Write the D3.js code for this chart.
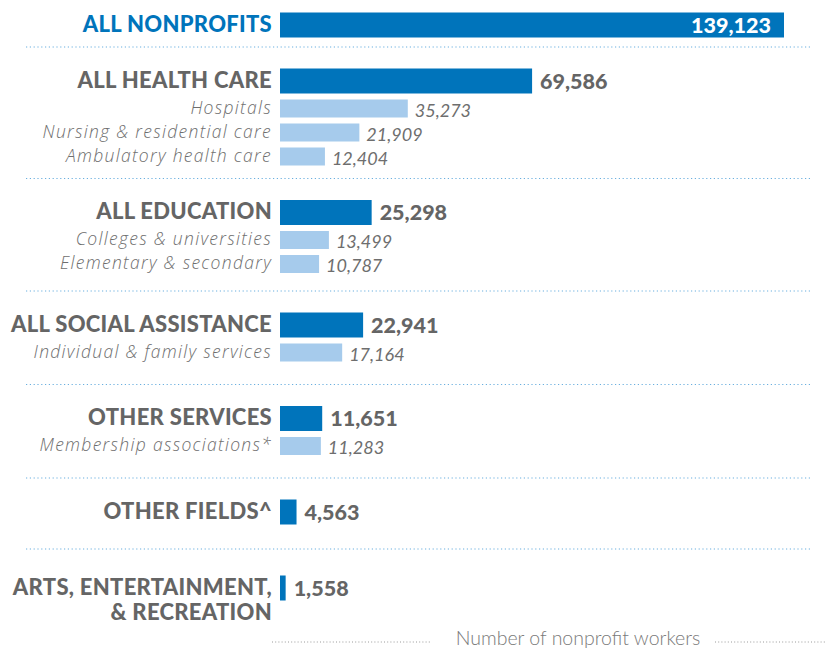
<!DOCTYPE html>
<html>
<head>
<meta charset="utf-8">
<script src="https://cdn.jsdelivr.net/npm/d3@7"></script>
<style>
  html, body { margin: 0; padding: 0; background: #fff; }
  svg { display: block; }
</style>
</head>
<body>
<svg id="chart" width="833" height="650"></svg>
<script>
// ---- data ----
const groups = ["ALL NONPROFITS", "ALL HEALTH CARE", "ALL EDUCATION", "ALL SOCIAL ASSISTANCE",
                "OTHER SERVICES", "OTHER FIELDS^", "ARTS, ENTERTAINMENT, & RECREATION"];
const groupValues = [139123, 69586, 25298, 22941, 11651, 4563, 1558];
const subCategories = [
  [],
  ["Hospitals", "Nursing & residential care", "Ambulatory health care"],
  ["Colleges & universities", "Elementary & secondary"],
  ["Individual & family services"],
  ["Membership associations*"],
  [],
  []
];
const subValues = [
  [],
  [35273, 21909, 12404],
  [13499, 10787],
  [17164],
  [11283],
  [],
  []
];
const axisTitle = "Number of nonprofit workers";

// ---- style / layout ----
const W = 833, H = 650;
const darkBlue = "#0074bb", lightBlue = "#a6cbec", gray = "#656565", subGray = "#6e6e6e", sepColor = "#6aafdf";
const font = "Lato, 'Open Sans', sans-serif";
const subFont = "'Open Sans', Lato, sans-serif";
const labelRight = 272;
const mainBarH = 25, subBarH = 18;
const firstCenter = 25, firstToSep = 22;
const sepToMain = 34, mainToSub = 27.5, subStep = 24, lineH = 25;

const x = d3.scaleLinear().domain([0, d3.max(groupValues)]).range([280, 784]);
const y = d3.scaleLinear().domain([0, H]).range([0, H]);
const fmt = d3.format(",");

// build rows
const rows = [], seps = [];
let cursor = firstCenter;
groups.forEach((g, i) => {
  const lines = g.includes(", &") ? g.replace(", &", ",\n&").split("\n") : [g];
  if (i > 0) cursor = seps[seps.length - 1] + sepToMain + (lines.length - 1) * lineH * 0.2;
  rows.push({ type: "main", idx: i, label: lines, value: groupValues[i], yc: cursor });
  subCategories[i].forEach((s, j) => {
    cursor = (j === 0) ? cursor + mainToSub : cursor + subStep;
    rows.push({ type: "sub", idx: i, label: [s], value: subValues[i][j], yc: cursor });
  });
  if (i < groups.length - 1) {
    const gap = i === 0 ? firstToSep : 37 - 5 * subCategories[i].length;
    seps.push(cursor + gap);
  }
});

const svg = d3.select("#chart");

// separators
svg.append("g").selectAll("line").data(seps).join("line")
  .attr("x1", 26).attr("x2", 812)
  .attr("y1", d => y(d)).attr("y2", d => y(d))
  .attr("stroke", sepColor).attr("stroke-width", 1.2)
  .attr("stroke-dasharray", "1.2 2.6");

// bars
svg.append("g").selectAll("rect").data(rows).join("rect")
  .attr("x", x(0))
  .attr("y", d => y(d.yc) - (d.type === "main" ? mainBarH : subBarH) / 2)
  .attr("width", d => x(d.value) - x(0))
  .attr("height", d => d.type === "main" ? mainBarH : subBarH)
  .attr("fill", d => d.type === "main" ? darkBlue : lightBlue);

// category labels
const lab = svg.append("g").selectAll("text").data(rows).join("text")
  .attr("text-anchor", "end")
  .attr("x", labelRight)
  .attr("y", d => y(d.yc))
  .attr("font-family", d => d.type === "main" ? font : subFont)
  .attr("font-size", d => d.type === "main" ? 22 : 17.5)
  .attr("letter-spacing", d => d.type === "main" ? 0.3 : 1.3)
  .attr("font-weight", d => d.type === "main" ? 900 : 300)
  .attr("font-style", d => d.type === "main" ? "normal" : "italic")
  .attr("fill", d => d.idx === 0 ? darkBlue : (d.type === "main" ? gray : subGray));
lab.each(function(d) {
  const t = d3.select(this);
  d.label.forEach((l, k) => {
    t.append("tspan").attr("x", labelRight)
      .attr("dy", k === 0 ? "0.3em" : lineH + "px")
      .text(l);
  });
});

// value labels
svg.append("g").selectAll("text").data(rows).join("text")
  .attr("x", d => d.idx === 0 ? x(d.value) - 13 : x(d.value) + (d.type === "main" ? 8 : 7))
  .attr("y", d => y(d.yc))
  .attr("dy", d => d.type === "main" ? "0.36em" : "0.45em")
  .attr("text-anchor", d => d.idx === 0 ? "end" : "start")
  .attr("font-family", font)
  .attr("font-size", d => d.type === "main" ? 21.5 : 18)
  .attr("font-weight", d => d.type === "main" ? 900 : 400)
  .attr("font-style", d => d.type === "main" ? "normal" : "italic")
  .attr("fill", d => d.idx === 0 ? "#fff" : (d.type === "main" ? gray : subGray))
  .text(d => fmt(d.value));

// axis title with dotted rules
const axY = 638;
svg.append("text")
  .attr("x", 578).attr("y", axY).attr("dy", "0.36em")
  .attr("text-anchor", "middle")
  .attr("font-family", font).attr("font-weight", 300).attr("font-size", 19.5)
  .attr("fill", "#7a7a7a")
  .text(axisTitle);
svg.append("g").selectAll("line").data([[272, 432], [715, 825]]).join("line")
  .attr("x1", d => d[0]).attr("x2", d => d[1])
  .attr("y1", axY + 4).attr("y2", axY + 4)
  .attr("stroke", "#9a9a9a").attr("stroke-width", 1)
  .attr("stroke-dasharray", "1 2.2");
</script>
</body>
</html>
